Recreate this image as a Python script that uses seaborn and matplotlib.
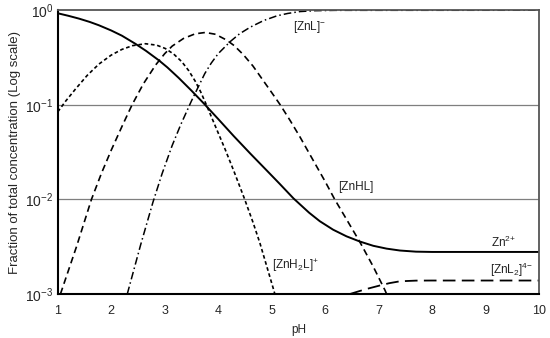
import matplotlib
matplotlib.use("Agg")
import matplotlib.pyplot as plt
import seaborn as sns
import numpy as np
import pandas as pd

sns.set_theme(style="white")
plt.rcParams["font.family"] = ["Liberation Sans", "DejaVu Sans"]
plt.rcParams["mathtext.default"] = "regular"

# log10 of fraction
ph_zn = [1.0, 1.2, 1.4, 1.6, 1.77, 2.0, 2.2, 2.45, 2.65, 2.89, 3.05, 3.26, 3.5, 3.73, 4.0, 4.29,
         4.6, 4.91, 5.15, 5.41, 5.7, 5.9, 6.15, 6.4, 6.65, 6.9, 7.15, 7.4, 7.7, 8.0, 10.0]
lg_zn = [-0.033, -0.06, -0.09, -0.125, -0.16, -0.215, -0.27, -0.355, -0.43, -0.53, -0.605, -0.715,
         -0.85, -0.985, -1.15, -1.33, -1.515, -1.695, -1.835, -1.99, -2.14, -2.23, -2.32, -2.39,
         -2.445, -2.49, -2.52, -2.54, -2.552, -2.555, -2.555]

ph_znh2l = [1.0, 1.15, 1.33, 1.55, 1.77, 2.0, 2.2, 2.4, 2.64, 2.85, 3.01, 3.17, 3.32, 3.45, 3.57,
            3.67, 3.76, 3.95, 4.13, 4.3, 4.49, 4.65, 4.78, 4.9, 5.03, 5.06]
lg_znh2l = [-1.075, -0.96, -0.835, -0.69, -0.57, -0.475, -0.415, -0.375, -0.355, -0.37, -0.405,
            -0.465, -0.545, -0.64, -0.75, -0.86, -0.975, -1.23, -1.47, -1.71, -1.99, -2.24, -2.46,
            -2.69, -2.94, -3.0]

ph_znhl = [1.05, 1.35, 1.63, 1.82, 2.0, 2.2, 2.39, 2.6, 2.83, 3.0, 3.14, 3.35, 3.57, 3.76, 3.95,
           4.16, 4.3, 4.47, 4.65, 4.85, 5.0, 5.16, 5.35, 5.53, 5.7, 5.9, 6.0, 6.18, 6.4, 6.65, 6.9,
           7.12, 7.15]
lg_znhl = [-3.0, -2.5, -2.0, -1.72, -1.48, -1.23, -1.0, -0.78, -0.58, -0.46, -0.38, -0.30, -0.25,
           -0.236, -0.255, -0.317, -0.375, -0.47, -0.59, -0.75, -0.87, -1.0, -1.17, -1.34, -1.51,
           -1.71, -1.81, -2.0, -2.21, -2.45, -2.71, -2.96, -3.0]

ph_znl = [2.3, 2.55, 2.78, 2.95, 3.14, 3.3, 3.5, 3.62, 3.75, 3.87, 4.0, 4.23, 4.4, 4.6, 4.85, 5.1,
          5.3, 5.53, 5.8, 6.2, 10.0]
lg_znl = [-3.0, -2.48, -2.03, -1.73, -1.43, -1.21, -0.96, -0.82, -0.67, -0.56, -0.46, -0.33, -0.25,
          -0.18, -0.11, -0.06, -0.035, -0.015, -0.006, -0.002, -0.001]

ph_znl2 = [6.46, 6.75, 7.02, 7.2, 7.4, 7.7, 8.0, 10.0]
lg_znl2 = [-3.0, -2.95, -2.91, -2.885, -2.865, -2.858, -2.857, -2.857]

species = ["Zn", "ZnH2L", "ZnHL", "ZnL", "ZnL2"]
frames = []
for name, ph, lg in zip(species,
                        [ph_zn, ph_znh2l, ph_znhl, ph_znl, ph_znl2],
                        [lg_zn, lg_znh2l, lg_znhl, lg_znl, lg_znl2]):
    frames.append(pd.DataFrame({"pH": ph, "frac": 10.0 ** np.array(lg), "species": name}))
df = pd.concat(frames, ignore_index=True)

dashes = {"Zn": "", "ZnH2L": (2.2, 1.6), "ZnHL": (4, 2.5), "ZnL": (5, 2, 1, 2), "ZnL2": (7, 3.5)}
widths = {"Zn": 1.4, "ZnH2L": 1.2, "ZnHL": 1.2, "ZnL": 1.1, "ZnL2": 1.3}

fig, ax = plt.subplots(figsize=(5.5, 3.38), dpi=100)
fig.subplots_adjust(left=0.105, right=0.98, top=0.97, bottom=0.13)

for name in species:
    sub = df[df["species"] == name]
    sns.lineplot(data=sub, x="pH", y="frac", ax=ax, color="black",
                 lw=widths[name], sort=False, estimator=None)
    if dashes[name]:
        ax.lines[-1].set_dashes(dashes[name])

ax.set_yscale("log")
ax.set_xlim(1, 10)
ax.set_ylim(1e-3, 1)
ax.set_xticks(range(1, 11))
ax.set_yticks([1e-3, 1e-2, 1e-1, 1])
ax.minorticks_off()
for v in [1e-2, 1e-1]:
    ax.axhline(v, color="#7f7f7f", lw=0.9, zorder=0)

ax.tick_params(axis="x", direction="in", length=3, width=1, labelsize=9, pad=8, color="black")
ax.tick_params(axis="y", length=0, labelsize=10, pad=3)
for s in ["left", "bottom"]:
    ax.spines[s].set_color("black")
    ax.spines[s].set_linewidth(1.5)
for s in ["top", "right"]:
    ax.spines[s].set_color("#555555")
    ax.spines[s].set_linewidth(1.3)

ax.set_xlabel("pH", fontsize=8.5, labelpad=5)
ax.set_ylabel("Fraction of total concentration (Log scale)", fontsize=9.5, labelpad=3)

lab = dict(fontsize=8.5, color="#222222", va="center", ha="left")
ax.text(5.40, 10 ** -0.178, "[ZnL]$^{-}$", **lab)
ax.text(6.24, 10 ** -1.87, "[ZnHL]", **lab)
ax.text(9.11, 10 ** -2.45, "Zn$^{2{+}}$", **lab)
ax.text(5.01, 10 ** -2.70, "[ZnH$_2$L]$^{+}$", **lab)
ax.text(9.08, 10 ** -2.74, "[ZnL$_2$]$^{4{-}}$", **lab)

fig.savefig("out.png", dpi=100)
